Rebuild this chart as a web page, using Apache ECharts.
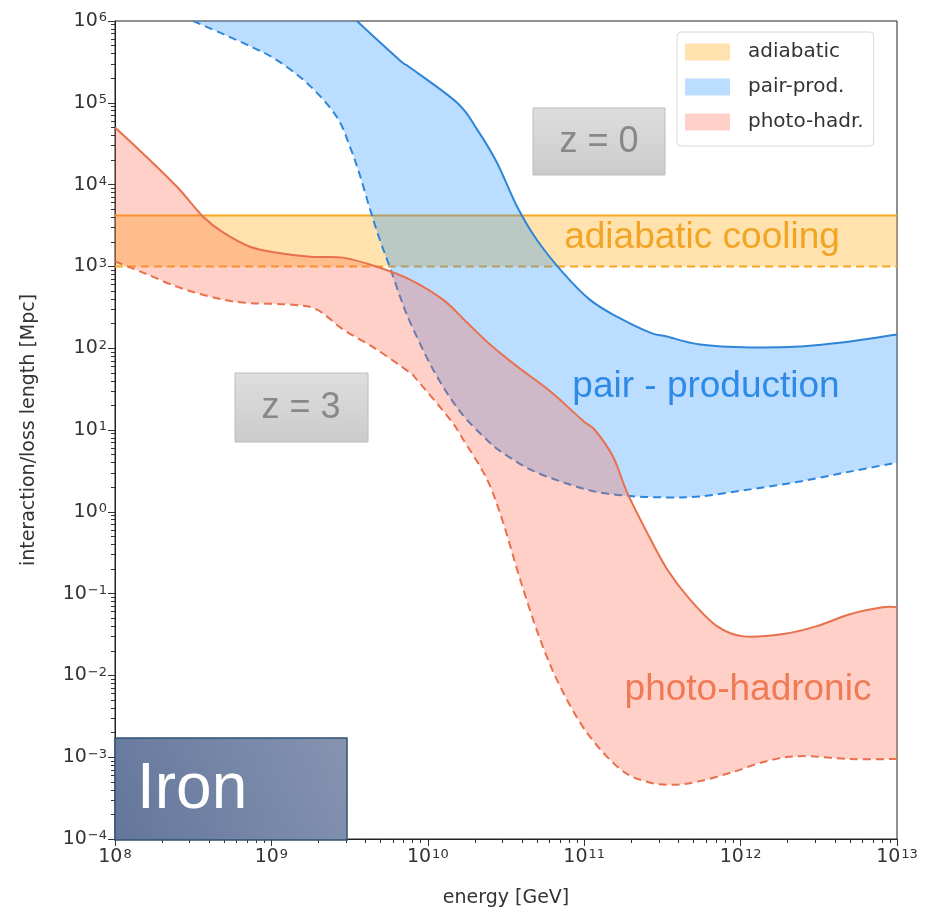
<!DOCTYPE html>
<html>
<head>
<meta charset="utf-8">
<script src="https://cdn.jsdelivr.net/npm/echarts@6/dist/echarts.min.js"></script>
<style>
  html, body { margin: 0; padding: 0; background: #fff; }
  #chart { width: 936px; height: 913px; }
</style>
</head>
<body>
<div id="chart"></div>
<script>
// Decade exponents used for the major tick labels
const xTickExps = [8, 9, 10, 11, 12, 13];
const yTickExps = [-4, -3, -2, -1, 0, 1, 2, 3, 4, 5, 6];

// [energy (GeV), interaction/loss length (Mpc)] — solid: z = 0, dashed: z = 3
const adiabaticZ0 = [[1e8, 4.2e3], [1e13, 4.2e3]];
const adiabaticZ3 = [[1e8, 1.0e3], [1e13, 1.0e3]];

const pairZ0 = [
  [3.52e9, 1e6], [6.64e9, 3.3e5], [7.69e9, 2.7e5], [1.54e10, 1.0e5], [2.07e10, 4.7e4],
  [2.77e10, 1.85e4], [3.72e10, 5.4e3], [4.99e10, 2.1e3], [7.31e10, 840], [1.09e11, 390],
  [1.62e11, 243], [2.64e11, 155], [3.38e11, 139], [5.5e11, 111], [1.15e12, 102],
  [2.4e12, 105], [5e12, 121], [1e13, 147]
];
const pairZ3 = [
  [3.16e8, 1e6], [6.58e8, 5.4e5], [1.09e9, 3.3e5], [1.77e9, 1.6e5], [2.62e9, 6.7e4],
  [3.18e9, 2.9e4], [3.68e9, 1.3e4], [4.27e9, 5.0e3], [4.94e9, 2.1e3], [5.73e9, 970],
  [6.64e9, 430], [7.69e9, 210], [1.08e10, 55], [1.6e10, 17], [2.4e10, 7.5],
  [3.0e10, 5.3], [4.5e10, 3.3], [7.3e10, 2.3], [1.2e11, 1.75], [2.05e11, 1.55],
  [3.4e11, 1.5], [5.5e11, 1.54], [1.15e12, 1.88], [2.4e12, 2.35], [5e12, 3.1], [1e13, 4.0]
];

const photoZ0 = [
  [1e8, 5.0e4], [1.51e8, 2.4e4], [2.49e8, 9.4e3], [3.66e8, 4.05e3], [4.91e8, 2.6e3],
  [7.29e8, 1.74e3], [1.09e9, 1.47e3], [1.77e9, 1.31e3], [2.87e9, 1.28e3], [4.73e9, 990],
  [7.69e9, 690], [1.25e10, 392], [1.78e10, 206], [2.5e10, 111], [3.72e10, 60],
  [6.04e10, 30], [9.82e10, 13], [1.17e11, 10], [1.53e11, 4.7], [1.88e11, 1.73],
  [2.52e11, 0.56], [3.38e11, 0.2], [4.74e11, 0.085], [7.06e11, 0.04], [1.04e12, 0.03],
  [1.87e12, 0.032], [3.08e12, 0.04], [5e12, 0.056], [8.13e12, 0.068], [1e13, 0.068]
];
const photoZ3 = [
  [1e8, 1.15e3], [1.51e8, 840], [2.49e8, 565], [4.05e8, 427], [6.58e8, 361],
  [1.37e9, 340], [1.96e9, 296], [2.87e9, 170], [4.73e9, 96], [7.69e9, 50],
  [8.53e9, 41], [1.39e10, 13.4], [1.68e10, 7.7], [2.39e10, 2.5], [3.03e10, 0.74],
  [3.89e10, 0.15], [5.21e10, 0.028], [7.0e10, 0.0074], [1.04e11, 0.002], [1.69e11, 7.2e-4],
  [2.52e11, 5.0e-4], [3.7e11, 4.6e-4], [5.5e11, 5.1e-4], [8.93e11, 6.6e-4], [1.48e12, 9.0e-4],
  [2.4e12, 1.03e-3], [5e12, 9.5e-4], [1e13, 9.5e-4]
];

const FONT_AX = '"DejaVu Sans", sans-serif';
const FONT_ANN = '"Liberation Sans", Arial, sans-serif';

const toLog = pts => pts.map(p => [Math.log10(p[0]), Math.log10(p[1])]);

function minorPositions(lo, hi) {
  const out = [];
  for (let e = lo; e < hi; e++) for (let k = 2; k <= 9; k++) out.push(e + Math.log10(k));
  return out;
}

// Smooth cubic path (Catmull-Rom -> Bezier) through pixel points
function splinePath(pts, start) {
  const f = p => p[0].toFixed(2) + ',' + p[1].toFixed(2);
  let d = (start ? 'M' : 'L') + f(pts[0]);
  const n = pts.length;
  for (let i = 0; i < n - 1; i++) {
    const p0 = pts[Math.max(i - 1, 0)], p1 = pts[i], p2 = pts[i + 1], p3 = pts[Math.min(i + 2, n - 1)];
    const c1 = [p1[0] + (p2[0] - p0[0]) / 6, p1[1] + (p2[1] - p0[1]) / 6];
    const c2 = [p2[0] - (p3[0] - p1[0]) / 6, p2[1] - (p3[1] - p1[1]) / 6];
    d += 'C' + f(c1) + ' ' + f(c2) + ' ' + f(p2);
  }
  return d;
}

function bandSeries(name, upper, lower, fill, stroke) {
  const up = toLog(upper), lo = toLog(lower);
  return {
    type: 'custom',
    name: name,
    coordinateSystem: 'cartesian2d',
    xAxisIndex: 0,
    yAxisIndex: 0,
    data: up,
    encode: { x: 0, y: 1 },
    itemStyle: { color: fill },
    silent: true,
    renderItem: function (params, api) {
      if (params.dataIndex !== 0) return null;
      const U = up.map(p => api.coord(p));
      const L = lo.map(p => api.coord(p));
      const Lr = L.slice().reverse();
      const cs = params.coordSys;
      return {
        type: 'group',
        clipPath: { type: 'rect', shape: { x: cs.x, y: cs.y, width: cs.width, height: cs.height } },
        children: [
          { type: 'path', shape: { pathData: splinePath(U, true) + splinePath(Lr, false) + 'Z' },
            style: { fill: fill, stroke: 'none' } },
          { type: 'path', shape: { pathData: splinePath(U, true) },
            style: { fill: 'none', stroke: stroke, lineWidth: 2 } },
          { type: 'path', shape: { pathData: splinePath(L, true) },
            style: { fill: 'none', stroke: stroke, lineWidth: 2, lineDash: [8, 5] } }
        ]
      };
    }
  };
}

const expText = v => '10{sup|' + (v < 0 ? '\u2212' + (-v) : v) + '}';
const labelRich = {
  sup: { fontSize: 13, fontFamily: FONT_AX, color: '#333', verticalAlign: 'top', padding: [0, 0, 6, 1] }
};

const majorAxisCommon = {
  type: 'value',
  interval: 1,
  axisLine: { show: true, onZero: false, lineStyle: { color: '#222', width: 1 } },
  axisTick: { show: true, length: 7, lineStyle: { color: '#333', width: 1 } },
  splitLine: { show: false },
  nameTextStyle: { fontFamily: FONT_AX, fontSize: 19, color: '#333' }
};
const minorAxisCommon = {
  type: 'value',
  axisLine: { show: false, onZero: false },
  axisLabel: { show: false },
  splitLine: { show: false }
};

const chart = echarts.init(document.getElementById('chart'), null, { renderer: 'canvas' });

const grayBox = new echarts.graphic.LinearGradient(0, 0, 0, 1, [
  { offset: 0, color: '#dedede' }, { offset: 1, color: '#cbcbcb' }
]);
const ironFill = new echarts.graphic.LinearGradient(0, 1, 1, 0, [
  { offset: 0, color: '#63769b' }, { offset: 1, color: '#8694b1' }
]);

chart.setOption({
  animation: false,
  backgroundColor: '#fff',
  grid: { left: 115, right: 39, top: 21, bottom: 73, show: true, borderColor: '#222', borderWidth: 1, backgroundColor: 'transparent' },
  xAxis: [
    Object.assign({}, majorAxisCommon, {
      min: xTickExps[0], max: xTickExps[xTickExps.length - 1], position: 'bottom',
      name: 'energy [GeV]', nameLocation: 'middle', nameGap: 50,
      axisLabel: {
        margin: 9, fontFamily: FONT_AX, fontSize: 19, color: '#333',
        showMinLabel: true, showMaxLabel: true, hideOverlap: false,
        formatter: v => expText(v), rich: labelRich
      }
    }),
    Object.assign({}, minorAxisCommon, {
      min: xTickExps[0], max: xTickExps[xTickExps.length - 1], position: 'bottom',
      axisTick: { show: true, length: 4, customValues: minorPositions(8, 13), lineStyle: { color: '#333', width: 1 } }
    })
  ],
  yAxis: [
    Object.assign({}, majorAxisCommon, {
      min: yTickExps[0], max: yTickExps[yTickExps.length - 1], position: 'left',
      name: 'interaction/loss length [Mpc]', nameLocation: 'middle', nameGap: 76,
      axisLabel: {
        margin: 8, fontFamily: FONT_AX, fontSize: 19, color: '#333',
        showMinLabel: true, showMaxLabel: true, hideOverlap: false,
        formatter: v => expText(v), rich: labelRich
      }
    }),
    Object.assign({}, minorAxisCommon, {
      min: yTickExps[0], max: yTickExps[yTickExps.length - 1], position: 'left',
      axisTick: { show: true, length: 4, customValues: minorPositions(-4, 6), lineStyle: { color: '#333', width: 1 } }
    })
  ],
  legend: {
    orient: 'vertical',
    left: 677, top: 32,
    padding: [10, 10, 14, 8],
    itemWidth: 45, itemHeight: 17, itemGap: 15,
    icon: 'rect',
    backgroundColor: 'rgba(255,255,255,0.85)',
    borderColor: '#d8d8d8', borderWidth: 1, borderRadius: 4,
    textStyle: { fontFamily: FONT_AX, fontSize: 20, color: '#333', lineHeight: 17, padding: [0, 0, 0, 13] },
    data: ['adiabatic', 'pair-prod.', 'photo-hadr.'],
    selectedMode: false
  },
  series: [
    bandSeries('adiabatic', adiabaticZ0, adiabaticZ3, 'rgba(255,165,0,0.32)', '#f5a623'),
    bandSeries('pair-prod.', pairZ0, pairZ3, 'rgba(30,144,255,0.3)', '#2f86d9'),
    bandSeries('photo-hadr.', photoZ0, photoZ3, 'rgba(255,99,71,0.3)', '#e8704d')
  ],
  graphic: [
    { type: 'text', x: 702, y: 238, z: 50,
      style: { text: 'adiabatic cooling', font: '37px ' + FONT_ANN, fill: '#f2a524', align: 'center', verticalAlign: 'middle' } },
    { type: 'text', x: 706, y: 387, z: 50,
      style: { text: 'pair - production', font: '37px ' + FONT_ANN, fill: '#2f8ae6', align: 'center', verticalAlign: 'middle' } },
    { type: 'text', x: 748, y: 690, z: 50,
      style: { text: 'photo-hadronic', font: '37px ' + FONT_ANN, fill: '#f07a55', align: 'center', verticalAlign: 'middle' } },

    { type: 'rect', z: 50, shape: { x: 533, y: 108, width: 132, height: 67 },
      style: { fill: grayBox, stroke: '#bcbcbc', lineWidth: 1 } },
    { type: 'text', x: 599, y: 142, z: 51,
      style: { text: 'z = 0', font: '36px ' + FONT_ANN, fill: '#888', align: 'center', verticalAlign: 'middle' } },
    { type: 'rect', z: 50, shape: { x: 235, y: 373, width: 133, height: 69 },
      style: { fill: grayBox, stroke: '#bcbcbc', lineWidth: 1 } },
    { type: 'text', x: 301, y: 408, z: 51,
      style: { text: 'z = 3', font: '36px ' + FONT_ANN, fill: '#888', align: 'center', verticalAlign: 'middle' } },

    { type: 'rect', z: 50, shape: { x: 115, y: 738, width: 232, height: 102 },
      style: { fill: ironFill, stroke: '#2f5373', lineWidth: 1.5 } },
    { type: 'text', x: 137, y: 790, z: 51,
      style: { text: 'Iron', font: '64px ' + FONT_ANN, fill: '#ffffff', align: 'left', verticalAlign: 'middle' } }
  ]
});
</script>
</body>
</html>
